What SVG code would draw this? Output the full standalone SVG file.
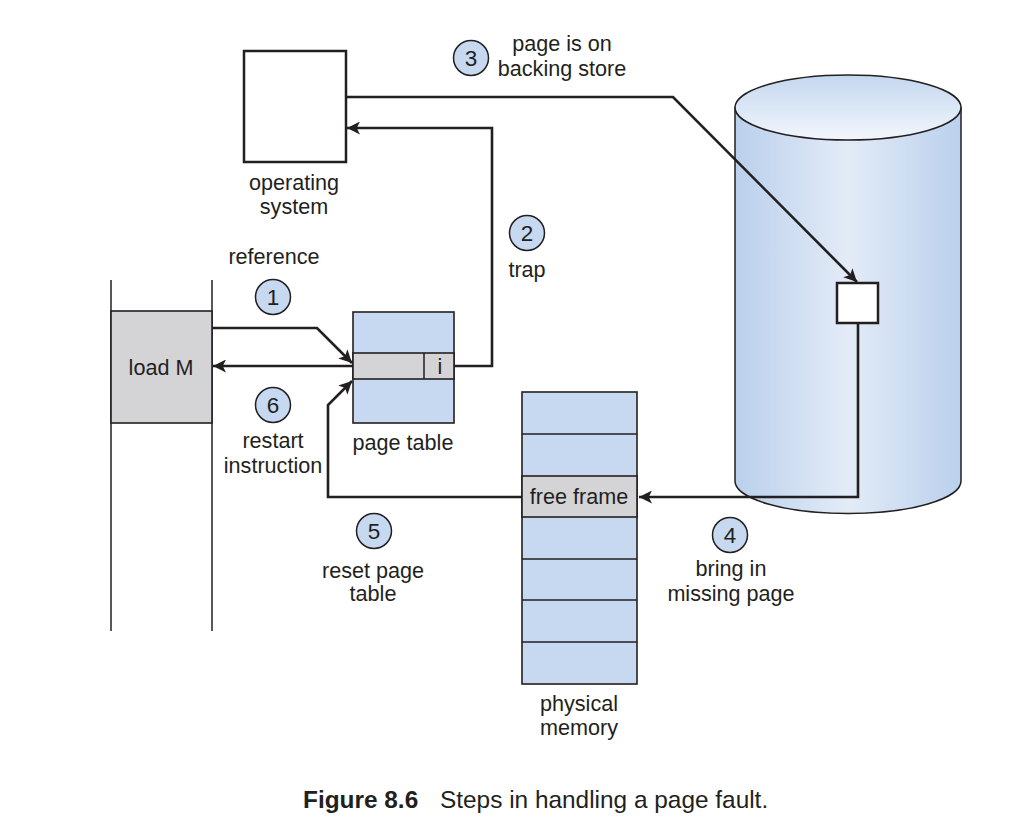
<svg xmlns="http://www.w3.org/2000/svg" width="1027" height="835" viewBox="0 0 1027 835">
<defs>
<style>
text{font-family:"Liberation Sans",Arial,sans-serif;font-size:21.6px;fill:#231f20;text-anchor:middle}
.cap{font-size:24.4px;text-anchor:start}
.b{font-weight:bold}
.d{font-size:22.5px}
.blue{fill:#c6d9f1;stroke:#231f20;stroke-width:1.6}
.gray{fill:#d4d4d6;stroke:#231f20;stroke-width:1.6}
.box{fill:#fff;stroke:#231f20;stroke-width:2.5}
.num{fill:#c6d9f1;stroke:#231f20;stroke-width:1.5}
.conn{fill:none;stroke:#231f20;stroke-width:2.6;marker-end:url(#ah)}
.plain{fill:none;stroke:#231f20;stroke-width:1.5}
</style>
<marker id="ah" viewBox="0 0 10 10" refX="10" refY="5" markerWidth="5" markerHeight="5" orient="auto" markerUnits="strokeWidth">
<path d="M0,0 L10,5 L0,10 L2.5,5 Z" fill="#231f20"/>
</marker>
<linearGradient id="body" x1="0" y1="0" x2="1" y2="0">
<stop offset="0" stop-color="#bad0ec"/>
<stop offset="0.5" stop-color="#e3ebf7"/>
<stop offset="1" stop-color="#bad0ec"/>
</linearGradient>
<linearGradient id="top" x1="0" y1="0" x2="0" y2="1">
<stop offset="0" stop-color="#c4d7ef"/>
<stop offset="1" stop-color="#f2f6fc"/>
</linearGradient>
</defs>
<rect width="1027" height="835" fill="#fff"/>

<g id="process">
<line class="plain" x1="111" y1="280" x2="111" y2="631"/>
<line class="plain" x1="212" y1="280" x2="212" y2="631"/>
<rect class="gray" x="111" y="311" width="101" height="112"/>
<text x="161" y="375">load M</text>
</g>

<g id="os">
<rect class="box" x="244" y="51" width="102" height="111"/>
<text x="294" y="190">operating</text>
<text x="294" y="214">system</text>
</g>

<g id="pagetable">
<rect class="blue" x="353" y="312" width="101" height="111"/>
<rect class="gray" x="353" y="353" width="101" height="26"/>
<line class="plain" x1="424" y1="353" x2="424" y2="379"/>
<text x="440" y="374">i</text>
<text x="403" y="450">page table</text>
</g>

<g id="disk">
<path d="M735,107.5 L735,481 A113,32.5 0 0 0 961,481 L961,107.5 Z" fill="url(#body)" stroke="#231f20" stroke-width="1.5"/>
<ellipse cx="848" cy="107.5" rx="113" ry="32.5" fill="url(#top)" stroke="#231f20" stroke-width="1.5"/>
<rect class="box" x="837" y="283" width="41" height="40"/>
</g>

<g id="memory">
<rect class="blue" x="522" y="392" width="115" height="292"/>
<rect class="gray" x="522" y="476" width="115" height="41"/>
<line class="plain" x1="522" y1="434" x2="637" y2="434"/>
<line class="plain" x1="522" y1="559" x2="637" y2="559"/>
<line class="plain" x1="522" y1="600" x2="637" y2="600"/>
<line class="plain" x1="522" y1="642" x2="637" y2="642"/>
<text x="579" y="504">free frame</text>
<text x="579" y="711">physical</text>
<text x="579" y="735">memory</text>
</g>

<g id="connectors">
<path class="conn" d="M212,328 L317,328 L352,363"/>
<path class="conn" d="M454,366 L492,366 L492,128 L347,128"/>
<path class="conn" d="M346,97 L673,97 L857,282"/>
<path class="conn" d="M858,323 L858,497 L639,497"/>
<path class="conn" d="M522,497 L328,497 L328,405 L352,381"/>
<path class="conn" d="M353,366 L213,366"/>
</g>

<g id="labels">
<text x="274" y="264">reference</text>
<circle class="num" cx="273" cy="297" r="17.5"/>
<text class="d" x="273" y="305">1</text>
<circle class="num" cx="527" cy="233" r="17.5"/>
<text class="d" x="527" y="241">2</text>
<text x="527" y="277">trap</text>
<circle class="num" cx="471" cy="58" r="17.5"/>
<text class="d" x="471" y="66">3</text>
<text x="562" y="51">page is on</text>
<text x="562" y="76">backing store</text>
<circle class="num" cx="730" cy="535" r="17.5"/>
<text class="d" x="730" y="543">4</text>
<text x="731" y="576">bring in</text>
<text x="731" y="601">missing page</text>
<circle class="num" cx="374" cy="531" r="17.5"/>
<text class="d" x="374" y="539">5</text>
<text x="373" y="578">reset page</text>
<text x="373" y="601">table</text>
<circle class="num" cx="273" cy="405" r="17.5"/>
<text class="d" x="273" y="413">6</text>
<text x="273" y="448">restart</text>
<text x="273" y="473">instruction</text>
</g>

<text class="cap" x="303" y="808"><tspan class="b">Figure 8.6</tspan><tspan x="440">Steps in handling a page fault.</tspan></text>
</svg>
